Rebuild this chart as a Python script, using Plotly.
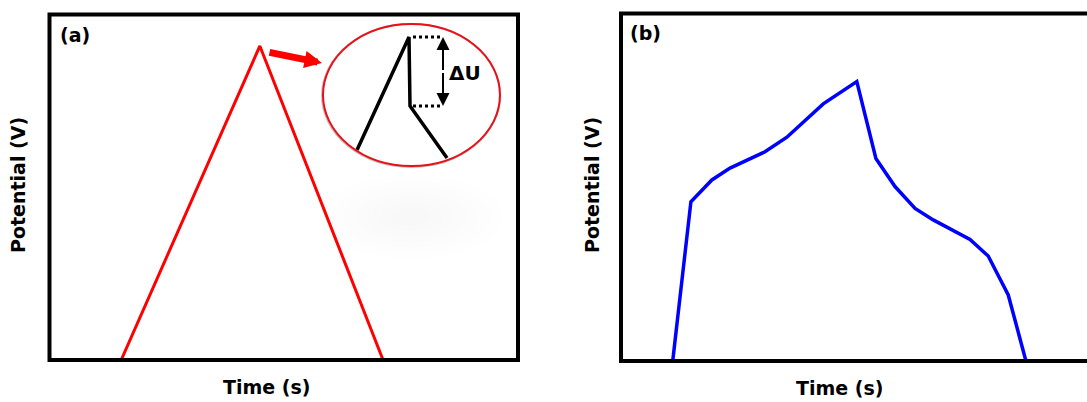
import plotly.graph_objects as go

W, H = 1087, 402

# ---------------- data ----------------
# (a) ideal triangular GCD curve (time in arbitrary units, potential normalised)
time_a = [15.3, 44.9, 71.2]
pot_a = [0.0, 0.909, 0.0]

# (b) real GCD curve with pseudocapacitive plateaus
time_b = [11.1, 15.0, 19.5, 23.4, 30.9, 35.6, 43.4, 50.6, 54.7, 58.8, 63.1, 67.0, 74.9, 78.8, 83.1, 86.9]
pot_b = [0.0, 0.458, 0.521, 0.555, 0.602, 0.644, 0.740, 0.804, 0.583, 0.502, 0.439, 0.406, 0.350, 0.302, 0.190, 0.0]

# inset sketch of the IR drop (inset units)
inset_x = [57, 109, 110, 147]
inset_y = [20, 133, 64, 12]
drop_top, drop_bottom = 133, 64
dot_x = [113, 143]

x_title = "Time (s)"
y_title = "Potential (V)"


def X(px):
    return px / W


def Y(py):
    return 1 - py / H


FONT = "DejaVu Sans"

fig = go.Figure()

fig.add_trace(go.Scatter(x=time_a, y=pot_a, mode="lines", line=dict(color="#ff0000", width=3),
                         xaxis="x", yaxis="y", showlegend=False, hoverinfo="skip"))
fig.add_trace(go.Scatter(x=time_b, y=pot_b, mode="lines", line=dict(color="#0000ff", width=3.5),
                         xaxis="x2", yaxis="y2", showlegend=False, hoverinfo="skip"))
fig.add_trace(go.Scatter(x=inset_x, y=inset_y, mode="lines", line=dict(color="black", width=3.5),
                         xaxis="x3", yaxis="y3", showlegend=False, hoverinfo="skip"))
for yy in (drop_top, drop_bottom):
    fig.add_trace(go.Scatter(x=dot_x, y=[yy, yy], mode="lines",
                             line=dict(color="black", width=3, dash="dot"),
                             xaxis="x3", yaxis="y3", showlegend=False, hoverinfo="skip"))

hidden = dict(showgrid=False, zeroline=False, showticklabels=False, ticks="", showline=False, fixedrange=True)

fig.update_layout(
    width=W, height=H,
    margin=dict(l=0, r=0, t=0, b=0),
    paper_bgcolor="white",
    plot_bgcolor="rgba(0,0,0,0)",
    xaxis=dict(domain=[X(49.5), X(518)], range=[0, 100], **hidden),
    yaxis=dict(domain=[Y(360), Y(14.5)], range=[0, 1], **hidden),
    xaxis2=dict(domain=[X(621), 1.0], range=[0, 100], anchor="y2", **hidden),
    yaxis2=dict(domain=[Y(361), Y(13.5)], range=[0, 1], anchor="x2", **hidden),
    xaxis3=dict(domain=[X(300), X(520)], range=[0, 220], anchor="y3", **hidden),
    yaxis3=dict(domain=[Y(170), Y(20)], range=[0, 150], anchor="x3", **hidden),
)

shapes = []
# soft grey shadow
for i in range(7):
    k = 1 - i * 0.13
    rx, ry = 92 * k, 42 * k
    shapes.append(dict(type="circle", xref="paper", yref="paper",
                       x0=X(411 - rx), x1=X(411 + rx), y0=Y(217 + ry), y1=Y(217 - ry),
                       line=dict(width=0), fillcolor="rgba(0,0,0,0.0055)", layer="below"))
# frame (a)
shapes.append(dict(type="rect", xref="paper", yref="paper",
                   x0=X(49.5), x1=X(518), y0=Y(360), y1=Y(14.5),
                   line=dict(color="black", width=4), layer="above"))
# frame (b) (right side off the image)
shapes.append(dict(type="path", xref="paper", yref="paper",
                   path=f"M {X(1095)},{Y(13.5)} L {X(621)},{Y(13.5)} L {X(621)},{Y(361)} L {X(1095)},{Y(361)}",
                   line=dict(color="black", width=4), layer="above"))
# inset ellipse shadow + ellipse
shapes.append(dict(type="circle", xref="x3", yref="y3", x0=22, x1=200, y0=3, y1=146,
                   line=dict(color="rgba(80,80,80,0.35)", width=2)))
shapes.append(dict(type="circle", xref="x3", yref="y3", x0=23, x1=200, y0=4, y1=146,
                   line=dict(color="#e8111a", width=2)))
fig.update_layout(shapes=shapes)

lab = dict(family=FONT, size=19, color="black", weight="bold")
c = dict(xanchor="center", yanchor="middle", showarrow=False, xref="paper", yref="paper")
ann = [
    dict(text="(a)", x=X(75), y=Y(35), font=lab, **c),
    dict(text="(b)", x=X(645.5), y=Y(33), font=lab, **c),
    dict(text=y_title, x=X(18), y=Y(185), textangle=-90, font=lab, **c),
    dict(text=y_title, x=X(592), y=Y(185), textangle=-90, font=lab, **c),
    dict(text=x_title, x=X(266), y=Y(387), font=lab, **c),
    dict(text=x_title, x=X(839), y=Y(388), font=lab, **c),
    # delta U
    dict(text="ΔU", x=165, y=97.5, xref="x3", yref="y3", showarrow=False, xanchor="center", yanchor="middle",
         font=dict(family=FONT, size=20, color="black", weight="bold")),
    # double arrow
    dict(text="", x=143, y=drop_top, xref="x3", yref="y3", ax=143, ay=98.5, axref="x3", ayref="y3",
         showarrow=True, arrowhead=2, arrowsize=1.3, arrowwidth=2, arrowcolor="black"),
    dict(text="", x=143, y=drop_bottom, xref="x3", yref="y3", ax=143, ay=98.5, axref="x3", ayref="y3",
         showarrow=True, arrowhead=2, arrowsize=1.3, arrowwidth=2, arrowcolor="black"),
    # red pointer arrow
    dict(text="", x=X(322), y=Y(63), xref="paper", yref="paper", ax=-54, ay=-11,
         showarrow=True, arrowhead=2, arrowsize=0.5, arrowwidth=7, arrowcolor="#ff0000"),
]
fig.update_layout(annotations=ann)

fig.write_html("out.html")
